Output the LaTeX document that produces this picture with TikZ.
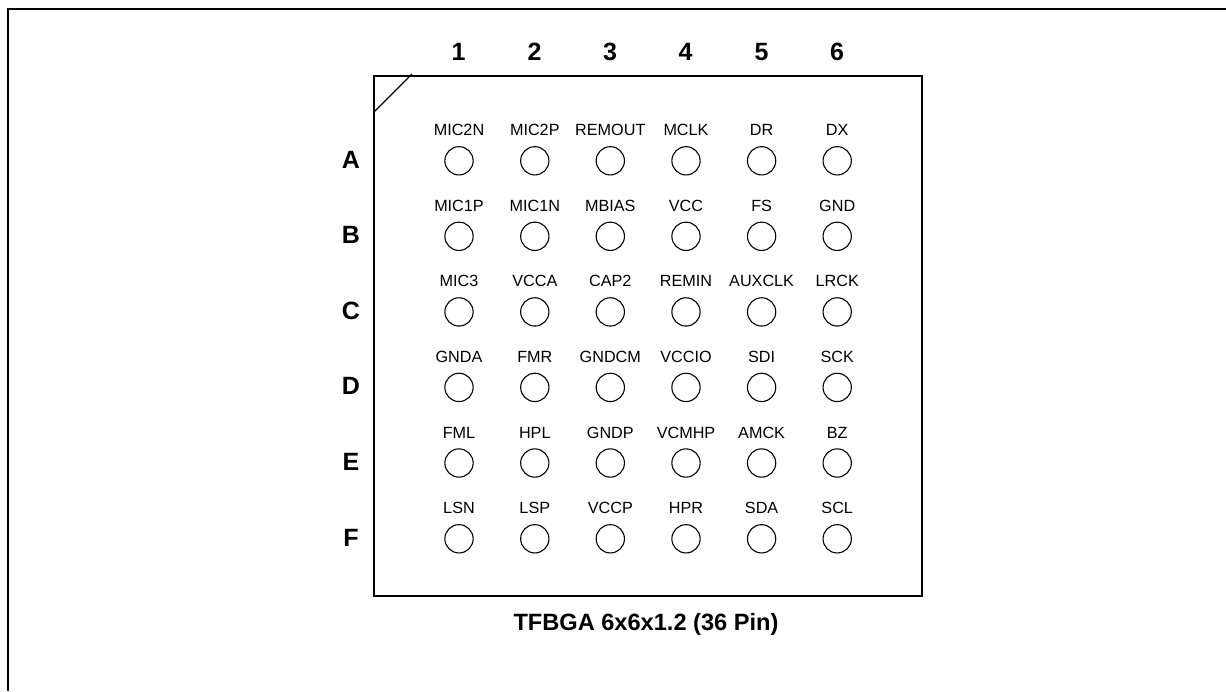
\documentclass[tikz,border=0pt]{standalone}
\usepackage{fontspec}
\setmainfont{Liberation Sans}
\tikzset{
  x=1pt,y=-1pt,
  frameline/.style={line width=2.4pt,line cap=butt},
  chipline/.style={line width=2pt},
  ball/.style={circle,draw,line width=1.1pt,minimum size=28.3pt,inner sep=0pt},
  pinlabel/.style={font=\fontsize{16.2}{18}\selectfont,inner sep=0pt,anchor=base},
  headlabel/.style={font=\fontsize{25}{28}\bfseries\selectfont,inner sep=0pt,anchor=base},
  titlelabel/.style={font=\fontsize{23.6}{26}\bfseries\selectfont,inner sep=0pt,anchor=base}
}
\begin{document}
\begin{tikzpicture}
\useasboundingbox (0,0) rectangle (1226,691);
\fill[white] (0,0) rectangle (1226,691);
\coordinate (fa) at (8,691); \coordinate (fb) at (8,9); \coordinate (fc) at (1226,9);
\draw[frameline] (fa) -- (fb) -- (fc);
\coordinate (c1) at (374,76); \coordinate (c2) at (922,596);
\draw[chipline] (c1) rectangle (c2);
\coordinate (d1) at (374,112); \coordinate (d2) at (412,74);
\draw[line width=1.3pt] (d1) -- (d2);
\foreach \t/\x in {1/458.5,2/534.5,3/610,4/685.5,5/761.5,6/837}
  \node[headlabel] (col\t) at (\x,60) {\t};
\foreach \t/\y in {A/161,B/236,C/312,D/387,E/463,F/538.5}
  \node[headlabel] (row\t) at (351,\y+7.5) {\t};
\foreach \r/\y/\names in {
  A/160.8/{MIC2N,MIC2P,REMOUT,MCLK,DR,DX},
  B/236.3/{MIC1P,MIC1N,MBIAS,VCC,FS,GND},
  C/311.9/{MIC3,VCCA,CAP2,REMIN,AUXCLK,LRCK},
  D/387.4/{GNDA,FMR,GNDCM,VCCIO,SDI,SCK},
  E/463/{FML,HPL,GNDP,VCMHP,AMCK,BZ},
  F/538.8/{LSN,LSP,VCCP,HPR,SDA,SCL}}{
  \foreach \n [count=\i] in \names {
    \pgfmathsetmacro{\xx}{{459,534.8,610.3,686,761.6,837.2}[\i-1]}
    \node[ball] (b\r\i) at (\xx,\y) {};
    \node[pinlabel] (l\r\i) at (\xx,\y-25) {\n};
  }
}
\node[titlelabel] (title) at (646,630) {TFBGA 6x6x1.2 (36 Pin)};
\end{tikzpicture}
\end{document}
